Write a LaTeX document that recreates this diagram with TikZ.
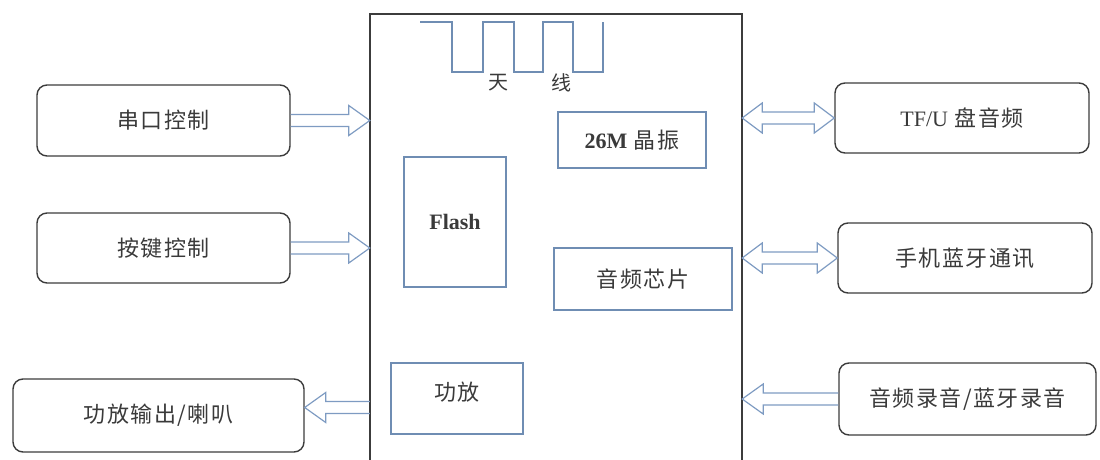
\documentclass[tikz,border=0pt]{standalone}
\usepackage{fontspec}
\setmainfont{Liberation Serif}
\newfontfamily\cjk[LetterSpace=7]{Noto Sans CJK SC}
\usetikzlibrary{calc}
\definecolor{boxline}{HTML}{3C3C3C}
\definecolor{blueline}{HTML}{6F8DB3}
\definecolor{arrline}{HTML}{7E9BC2}
\definecolor{txt}{HTML}{3A3A3A}
\newcommand\myarrR[2]{\draw[fat] let \p1=(#1), \p2=(#2) in
  (\x1,\y1+6pt) -- (\x2-21pt,\y1+6pt) -- (\x2-21pt,\y1+15pt) -- (\x2,\y1)
  -- (\x2-21pt,\y1-15pt) -- (\x2-21pt,\y1-6pt) -- (\x1,\y1-6pt);}
\newcommand\myarrL[2]{\draw[fat] let \p1=(#1), \p2=(#2) in
  (\x1,\y1+6pt) -- (\x2+21pt,\y1+6pt) -- (\x2+21pt,\y1+15pt) -- (\x2,\y1)
  -- (\x2+21pt,\y1-15pt) -- (\x2+21pt,\y1-6pt) -- (\x1,\y1-6pt);}
\newcommand\myarrD[2]{\draw[fat] let \p1=(#1), \p2=(#2) in
  (\x1,\y1) -- (\x1+20pt,\y1+15pt) -- (\x1+20pt,\y1+6pt) -- (\x2-20pt,\y1+6pt)
  -- (\x2-20pt,\y1+15pt) -- (\x2,\y1) -- (\x2-20pt,\y1-15pt) -- (\x2-20pt,\y1-6pt)
  -- (\x1+20pt,\y1-6pt) -- (\x1+20pt,\y1-15pt) -- cycle;}
\begin{document}
\begin{tikzpicture}[x=1pt,y=-1pt,
  outer/.style={draw=boxline, line width=1.4pt, rounded corners=10pt, inner sep=0pt,
    font=\cjk\fontsize{22}{26}\selectfont, text=txt},
  inner/.style={draw=blueline, line width=1.8pt, inner sep=0pt, text=txt,
    font=\cjk\fontsize{22}{26}\selectfont},
  fat/.style={draw=arrline, line width=1.2pt, line join=miter},
  mainline/.style={draw=boxline, line width=1.8pt},
  ant/.style={draw=blueline, line width=1.8pt},
  lbl/.style={font=\cjk\fontsize{20}{24}\selectfont, text=txt, inner sep=0pt}]
\useasboundingbox (0,0) rectangle (1100,460);
% main block
\node[inner sep=0pt, minimum width=372pt, minimum height=446pt] (main) at (556,237) {};
\draw[mainline] (main.south west) -- (main.north west) -- (main.north east) -- (main.south east);
% antenna
\draw[ant] (420,22) -- (452,22) -- (452,72) -- (483,72) -- (483,22) -- (514,22) -- (514,72)
  -- (543,72) -- (543,22) -- (573,22) -- (573,72) -- (603,72) -- (603,22);
\node[lbl] (tian) at (498,83) {天};
\node[lbl] (xian) at (561,83) {线};
% inner blocks
\node[inner, minimum width=148pt, minimum height=56pt] (xtal) at (632,140)
  {{\rmfamily\bfseries 26M}~晶振};
\node[inner, minimum width=102pt, minimum height=130pt] (flash) at (455,222)
  {\rmfamily\bfseries\fontsize{22}{26}\selectfont Flash};
\node[inner, minimum width=178pt, minimum height=62pt] (chip) at (643,279) {音频芯片};
\node[inner, minimum width=132pt, minimum height=71pt, text depth=14pt] (amp) at (457,398.5) {功放};
% outer blocks
\node[outer, minimum width=253pt, minimum height=71pt] (uart) at (163.5,120.5) {串口控制\hspace{12pt}};
\node[outer, minimum width=253pt, minimum height=70pt] (key) at (163.5,248) {按键控制\hspace{12pt}};
\node[outer, minimum width=291pt, minimum height=73pt] (out) at (158.5,415.5) {功放输出/喇叭\hspace{20pt}};
\node[outer, minimum width=254pt, minimum height=70pt] (tf) at (962,118) {{\rmfamily TF/U}~盘音频};
\node[outer, minimum width=254pt, minimum height=70pt] (bt) at (965,258) {手机蓝牙通讯};
\node[outer, minimum width=257pt, minimum height=72pt] (rec) at (967.5,399) {音频录音/蓝牙录音};
% connectors
\myarrR{uart.east}{uart.east -| main.west}
\myarrR{key.east}{key.east -| main.west}
\myarrL{$(out.east -| main.west)+(0,-8)$}{$(out.east)+(0,-8)$}
\myarrD{tf.west -| main.east}{tf.west}
\myarrD{bt.west -| main.east}{bt.west}
\myarrL{rec.west}{rec.west -| main.east}
\end{tikzpicture}
\end{document}
